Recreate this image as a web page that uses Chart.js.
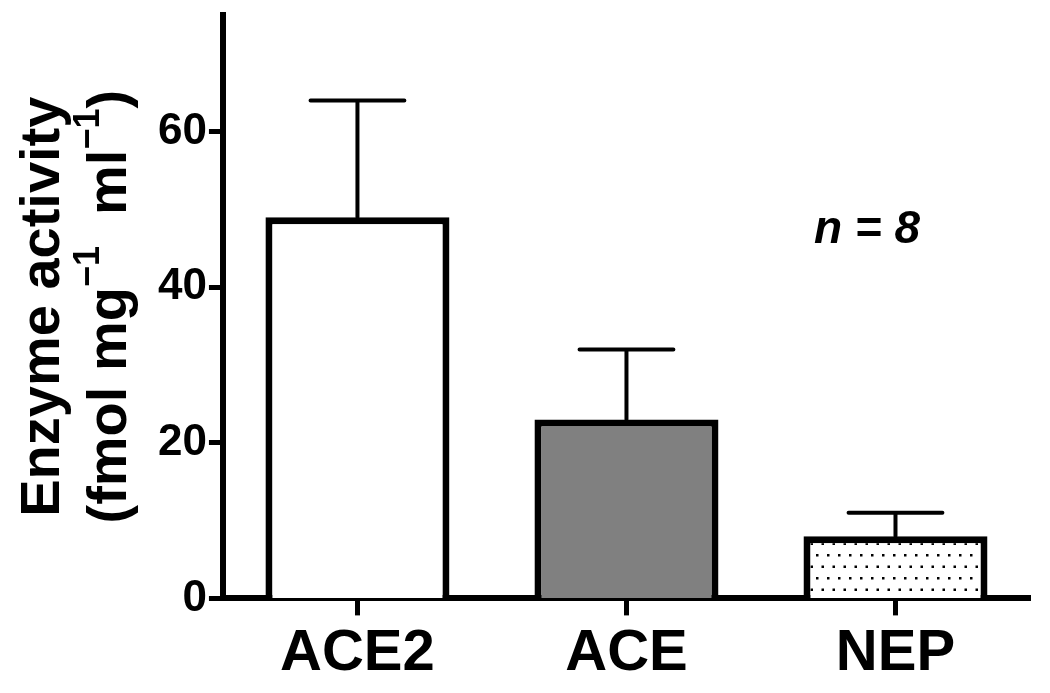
<!DOCTYPE html>
<html>
<head>
<meta charset="utf-8">
<script src="https://cdn.jsdelivr.net/npm/chart.js@4/dist/chart.umd.min.js"></script>
<style>
  html, body { margin: 0; padding: 0; background: #fff; }
  #wrap { width: 1050px; height: 693px; position: relative; }
</style>
</head>
<body>
<div id="wrap"><canvas id="chart"></canvas></div>
<script>
// values
var categories = ['ACE2', 'ACE', 'NEP'];
var means = [49, 23, 8];
var sems = [15, 9, 3];
var yTicks = [0, 20, 40, 60];
var yMax = 75;
var nLabel = 'n = 8';

var FONT = "'Liberation Sans', Arial, Helvetica, sans-serif";

// dotted fill used for the NEP bar
function makeDots() {
  var c = document.createElement('canvas');
  c.width = 11;
  c.height = 23;
  var g = c.getContext('2d');
  g.fillStyle = '#fff';
  g.fillRect(0, 0, 11, 23);
  g.fillStyle = '#000';
  g.fillRect(2, 2, 2.5, 2.5);
  g.fillRect(7.5, 13.5, 2.5, 2.5);
  return g.createPattern(c, 'repeat');
}

var errorBars = {
  id: 'errorBars',
  afterDatasetsDraw: function (chart) {
    var ctx = chart.ctx;
    var y = chart.scales.y;
    var meta = chart.getDatasetMeta(0);
    ctx.save();
    ctx.strokeStyle = '#000';
    ctx.lineWidth = 4;
    ctx.lineCap = 'round';
    meta.data.forEach(function (bar, i) {
      var top = y.getPixelForValue(means[i] + sems[i]);
      var half = bar.width * 0.255;
      ctx.beginPath();
      ctx.moveTo(bar.x, bar.y);
      ctx.lineTo(bar.x, top);
      ctx.moveTo(bar.x - half, top);
      ctx.lineTo(bar.x + half, top);
      ctx.stroke();
    });
    ctx.restore();
  }
};

// y title drawn by hand so the superscripts look right
var yTitle = {
  id: 'yTitle',
  afterDraw: function (chart) {
    var ctx = chart.ctx;
    var area = chart.chartArea;
    var cy = (area.top + area.bottom) / 2;
    var big = 'bold 56px ' + FONT;
    var sup = 'bold 36px ' + FONT;
    ctx.save();
    ctx.fillStyle = '#000';
    ctx.textBaseline = 'alphabetic';
    ctx.translate(0, cy);
    ctx.rotate(-Math.PI / 2);

    ctx.font = big;
    ctx.textAlign = 'center';
    ctx.fillText('Enzyme activity', 0, 59);

    var parts = [
      ['(fmol mg', big, 0],
      ['\u22121', sup, -27],
      ['  ml', big, 0],
      ['\u22121', sup, -27],
      [')', big, 0]
    ];
    var total = 0;
    parts.forEach(function (p) {
      ctx.font = p[1];
      total += ctx.measureText(p[0]).width;
    });
    ctx.textAlign = 'left';
    var x = -total / 2;
    parts.forEach(function (p) {
      ctx.font = p[1];
      ctx.fillText(p[0], x, 126 + p[2]);
      x += ctx.measureText(p[0]).width;
    });
    ctx.restore();
  }
};

var nNote = {
  id: 'nNote',
  afterDraw: function (chart) {
    var ctx = chart.ctx;
    var a = chart.chartArea;
    ctx.save();
    ctx.fillStyle = '#000';
    ctx.font = 'italic bold 46px ' + FONT;
    ctx.textAlign = 'center';
    ctx.textBaseline = 'alphabetic';
    ctx.fillText(nLabel, a.left + (a.right - a.left) * 0.798, a.top + (a.bottom - a.top) * 0.391);
    ctx.restore();
  }
};

var chart = new Chart('chart', {
  type: 'bar',
  data: {
    labels: categories,
    datasets: [{
      data: means,
      backgroundColor: ['#ffffff', '#808080', makeDots()],
      borderColor: '#000',
      borderWidth: 7,
      barPercentage: 0.684,
      categoryPercentage: 1
    }]
  },
  options: {
    responsive: true,
    maintainAspectRatio: false,
    animation: false,
    layout: {padding: {left: 156, right: 20, top: 15, bottom: 0}},
    plugins: {
      legend: {display: false},
      tooltip: {enabled: false},
      title: {display: false}
    },
    scales: {
      x: {
        z: 1,
        offset: true,
        border: {display: true, color: '#000', width: 6},
        grid: {
          offset: false,
          drawOnChartArea: false,
          drawTicks: true,
          tickLength: 17,
          tickWidth: 5,
          tickColor: '#000'
        },
        ticks: {
          color: '#000',
          padding: 4,
          font: {family: FONT, size: 58, weight: 'bold'}
        }
      },
      y: {
        z: 1,
        min: 0,
        max: yMax,
        afterBuildTicks: function (scale) {
          // labelled ticks plus an unlabelled one at the axis top
          scale.ticks = yTicks.concat([yMax]).map(function (v) { return {value: v}; });
        },
        border: {display: true, color: '#000', width: 6},
        grid: {
          drawOnChartArea: false,
          drawTicks: true,
          tickLength: 14,
          tickWidth: 5,
          tickColor: function (c) {
            return yTicks.indexOf(c.tick.value) >= 0 ? '#000' : 'rgba(0,0,0,0)';
          }
        },
        ticks: {
          color: '#000',
          padding: 2,
          font: function (c) {
            var shown = c.tick && yTicks.indexOf(c.tick.value) >= 0;
            return {family: FONT, size: shown ? 44 : 1, weight: 'bold'};
          },
          callback: function (v) {
            return yTicks.indexOf(v) >= 0 ? String(v) : '';
          }
        }
      }
    }
  },
  plugins: [errorBars, yTitle, nNote]
});
</script>
</body>
</html>
